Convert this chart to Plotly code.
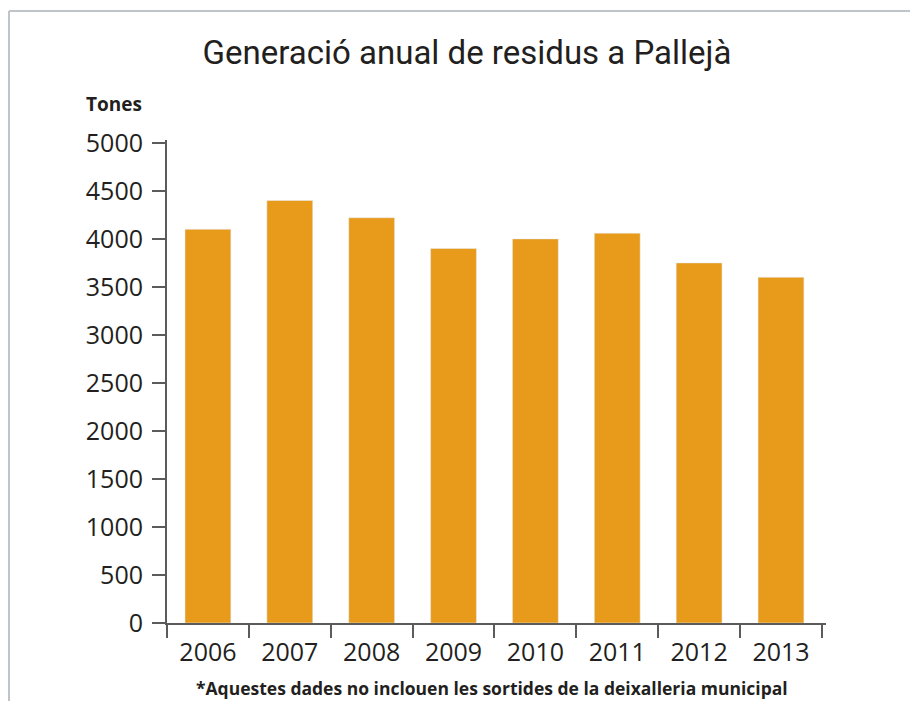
import plotly.graph_objects as go

years = ["2006", "2007", "2008", "2009", "2010", "2011", "2012", "2013"]
tones = [4100, 4400, 4220, 3900, 4000, 4060, 3750, 3600]
y_ticks = [0, 500, 1000, 1500, 2000, 2500, 3000, 3500, 4000, 4500, 5000]

OFF = 8  # page body margin
W, H = 918 - 2 * OFF, 709 - 2 * OFF
L, T = 167 - OFF, 140 - OFF
R = W - (826 - OFF)
B = H - (623 - OFF)
pw, ph = W - L - R, H - T - B

def px(x):
    return (x - OFF - L) / pw

def py(y):
    return (H - B - (y - OFF)) / ph

bar_color = "#E89B1A"
axis_color = "#5B5B5B"
text_color = "#231F20"
font = "Open Sans, Noto Sans, sans-serif"

fig = go.Figure(go.Bar(x=years, y=tones, marker_color=bar_color, width=0.56))

fig.update_layout(
    width=W, height=H,
    margin=dict(l=L, r=R, t=T, b=B),
    paper_bgcolor="white", plot_bgcolor="white",
    showlegend=False,
    font=dict(family=font, color=text_color, size=25),
    title=dict(text="Generació anual de residus a Pallejà", x=px(467), xref="paper",
               xanchor="center", y=1 - (52 - OFF) / H, yanchor="middle",
               font=dict(family="Roboto, sans-serif", size=33, color=text_color, weight=400)),
    xaxis=dict(range=[-0.5, 7.55], showline=True, linecolor=axis_color, linewidth=2,
               ticks="outside", tickson="boundaries", ticklen=13, tickwidth=2,
               tickcolor=axis_color, showgrid=False, zeroline=False, ticklabelstandoff=6,
               tickfont=dict(size=25, color=text_color)),
    yaxis=dict(range=[0, 5030], tickvals=y_ticks, showline=True, linecolor=axis_color,
               linewidth=2, ticks="outside", ticklen=13, tickwidth=2, tickcolor=axis_color,
               showgrid=False, zeroline=False, ticklabelstandoff=4,
               tickfont=dict(size=25, color=text_color)),
    annotations=[
        dict(text="<b>Tones</b>", x=px(114), y=py(104), xref="paper", yref="paper",
             showarrow=False, xanchor="center", yanchor="middle",
             font=dict(family=font, size=19, color=text_color)),
        dict(text="<b>*Aquestes dades no inclouen les sortides de la deixalleria municipal</b>",
             x=px(492), y=py(688), xref="paper", yref="paper", showarrow=False,
             xanchor="center", yanchor="middle",
             font=dict(family=font, size=17.5, color=text_color)),
    ],
    shapes=[
        dict(type="line", xref="paper", yref="paper", x0=px(9), x1=px(940), y0=py(11), y1=py(11),
             line=dict(color="#BFC4C9", width=2)),
        dict(type="line", xref="paper", yref="paper", x0=px(9), x1=px(9), y0=py(11), y1=py(730),
             line=dict(color="#BFC4C9", width=2)),
    ],
)

fig.write_html("out.html")
